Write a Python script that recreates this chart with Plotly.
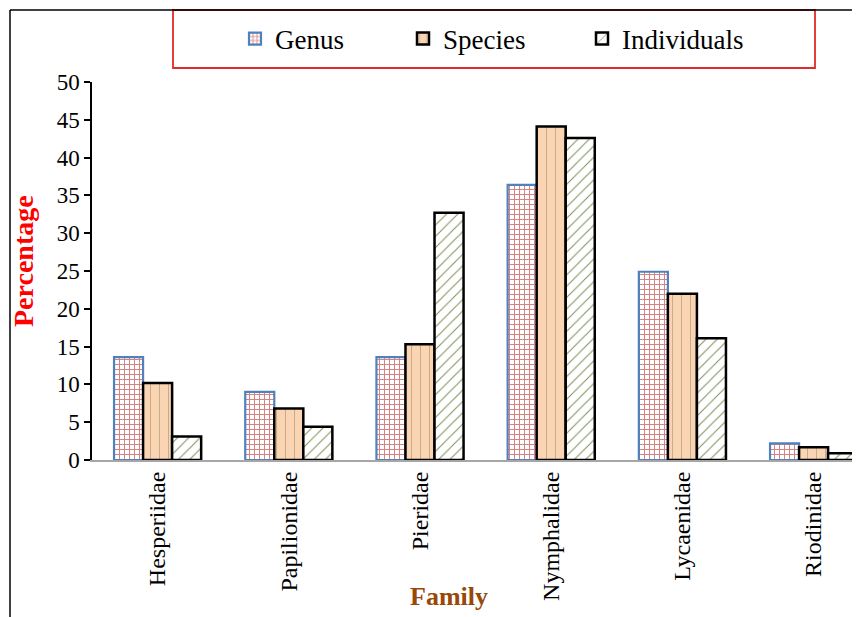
import plotly.graph_objects as go

families = ["Hesperiidae", "Papilionidae", "Pieridae", "Nymphalidae", "Lycaenidae", "Riodinidae"]
genus = [13.6, 9.0, 13.6, 36.4, 24.9, 2.2]
species = [10.2, 6.8, 15.3, 44.1, 22.0, 1.7]
individuals = [3.1, 4.4, 32.7, 42.6, 16.1, 0.9]
y_ticks = [0, 5, 10, 15, 20, 25, 30, 35, 40, 45, 50]

# the page body adds an 8px margin; target page pixels are converted to figure pixels
OFF = 8
W, H = 860, 617
ML = 92 - OFF
MT = 82 - OFF
PH = 378
MB = H - MT - PH
PW = W - ML
UNIT = 131.2  # px per category


def px_x(p):
    return (p - OFF - ML) / PW


def px_y(p):
    return (MT + PH - (p - OFF)) / PH


SERIF = "Liberation Serif, Times New Roman, serif"

fig = go.Figure()
fig.add_bar(
    x=families, y=genus, name="Genus", legend="legend",
    marker=dict(color="white", line=dict(color="#4F81BD", width=2.2),
                pattern=dict(shape="+", fgcolor="#B00000", bgcolor="white", size=5, solidity=0.35)),
)
fig.add_bar(
    x=families, y=species, name="Species", legend="legend2",
    marker=dict(color="#FBD4B4", line=dict(color="black", width=2.5),
                pattern=dict(shape="|", fgcolor="#4F6228", bgcolor="#FBD4B4", size=9,
                             solidity=0.08, fgopacity=0.45)),
)
fig.add_bar(
    x=families, y=individuals, name="Individuals", legend="legend3",
    marker=dict(color="white", line=dict(color="black", width=2.5),
                pattern=dict(shape="/", fgcolor="#5F7530", bgcolor="white", size=8,
                             solidity=0.13, fgopacity=0.8)),
)

leg_common = dict(orientation="h", yanchor="middle", y=px_y(39), xanchor="left",
                  bgcolor="rgba(0,0,0,0)", borderwidth=0,
                  font=dict(family=SERIF, size=27, color="black"))

fig.update_layout(
    width=W, height=H,
    margin=dict(l=ML, r=0, t=MT, b=MB),
    paper_bgcolor="white", plot_bgcolor="white",
    showlegend=True,
    barmode="group", bargap=0.336, bargroupgap=0,
    legend=dict(x=px_x(235), **leg_common),
    legend2=dict(x=px_x(403), **leg_common),
    legend3=dict(x=px_x(582), **leg_common),
    xaxis=dict(range=[-0.5, -0.5 + PW / UNIT], showline=True, linecolor="#A6A6A6", linewidth=2,
               ticks="", tickangle=-90, showgrid=False, zeroline=False,
               tickfont=dict(family=SERIF, size=24, color="black")),
    yaxis=dict(range=[0, 50], tickvals=y_ticks, showline=True, linecolor="black", linewidth=1.5,
               ticks="outside", ticklen=6, tickcolor="black", tickwidth=1.5,
               showgrid=False, zeroline=False,
               tickfont=dict(family=SERIF, size=23, color="black")),
    annotations=[
        dict(text="<b>Percentage</b>", x=px_x(24), y=px_y(261), xref="paper", yref="paper",
             textangle=-90, showarrow=False, xanchor="center", yanchor="middle",
             font=dict(family=SERIF, size=28, color="#FF0000")),
        dict(text="<b>Family</b>", x=px_x(449), y=px_y(596), xref="paper", yref="paper",
             showarrow=False, xanchor="center", yanchor="middle",
             font=dict(family=SERIF, size=26, color="#984807")),
    ],
    shapes=[
        dict(type="rect", xref="paper", yref="paper",
             x0=px_x(173), x1=px_x(815), y0=px_y(68), y1=px_y(10),
             line=dict(color="#E02B2B", width=1.8), fillcolor="rgba(0,0,0,0)"),
        dict(type="line", xref="paper", yref="paper",
             x0=px_x(10), x1=px_x(10), y0=px_y(10), y1=px_y(640),
             line=dict(color="black", width=1.5)),
        dict(type="line", xref="paper", yref="paper",
             x0=px_x(10), x1=px_x(880), y0=px_y(10), y1=px_y(10),
             line=dict(color="black", width=1.5)),
    ],
)

fig.write_html("out.html")
